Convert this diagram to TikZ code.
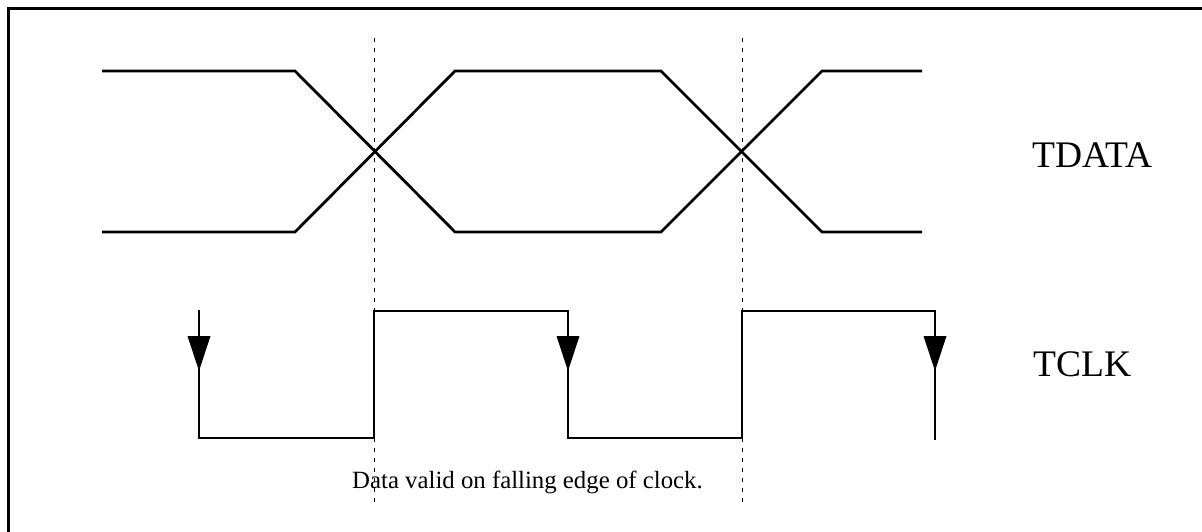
\documentclass[tikz,border=0pt]{standalone}
\usepackage{fontspec}
\setmainfont{Liberation Serif}
\begin{document}
\begin{tikzpicture}[x=1pt,y=-1pt,
  sig/.style={line width=2.8pt,line join=miter},
  guide/.style={line width=1pt,dash pattern=on 4pt off 6pt},
  frame/.style={line width=3pt},
  lbl/.style={font=\fontsize{37.5}{40}\selectfont,inner sep=0pt,anchor=base west},
  note/.style={font=\fontsize{24.8}{28}\selectfont,inner sep=0pt,anchor=base west},
  fallmark/.pic={\fill (-11.5,0) -- (11.5,0) -- (0,35) -- cycle;}
]
\useasboundingbox (0,0) rectangle (1202,531);
% frame (only top and left edges visible)
\draw[frame] (8,540) -- (8,8) -- (1210,8);
% guide lines
\draw[guide] (374,38) -- (374,502);
\draw[guide] (742,38) -- (742,502);
% TDATA
\draw[sig] (102,71) -- (295,71) -- (455,232) -- (661,232) -- (822,71) -- (922,71);
\draw[sig] (102,232) -- (295,232) -- (455,71) -- (661,71) -- (822,232) -- (922,232);
% TCLK
\draw[sig] (199,310) -- (199,438) -- (374,438) -- (374,311) -- (568,311) -- (568,438) -- (742,438) -- (742,311) -- (935,311) -- (935,440);
\pic at (199,336) {fallmark};
\pic at (568,336) {fallmark};
\pic at (935,336) {fallmark};
% labels
\node[lbl] (tdata) at (1032,167) {TDATA};
\node[lbl] (tclk) at (1033,376) {TCLK};
\node[note] (valid) at (352,488) {Data valid on falling edge of clock.};
\end{tikzpicture}
\end{document}
